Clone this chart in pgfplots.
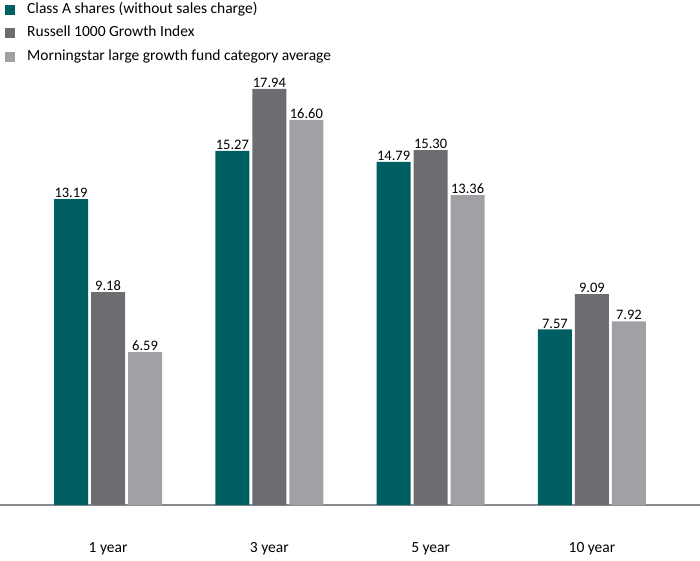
\documentclass[border=0pt]{standalone}
\usepackage{pgfplots}
\pgfplotsset{compat=1.18}
\usepackage{fontspec}
\setmainfont{Carlito}
\definecolor{cA}{HTML}{005F62}
\definecolor{cB}{HTML}{6D6C71}
\definecolor{cC}{HTML}{A0A1A4}
\definecolor{axc}{HTML}{8A8A8C}
\begin{document}
\begin{tikzpicture}
\useasboundingbox (0pt,-55pt) rectangle (700pt,505pt);
\begin{axis}[
  at={(0pt,0pt)}, anchor=south west,
  scale only axis, width=700pt, height=505pt,
  xmin=-0.67, xmax=3.67, ymin=0, ymax=21.77,
  axis y line=none, axis x line*=bottom,
  x axis line style={draw=axc, line width=1.2pt, -},
  ybar=3pt, bar width=34pt,
  xtick={0,1,2,3}, xticklabels={1 year,3 year,5 year,10 year},
  major tick length=0pt,
  xticklabel style={font=\fontsize{15.5}{18}\selectfont, yshift=-34pt},
  nodes near coords,
  nodes near coords style={font=\fontsize{14.5}{16}\selectfont, inner sep=1pt, anchor=south,
    /pgf/number format/.cd, fixed, fixed zerofill, precision=2, assume math mode=true},
  every axis plot/.append style={draw=none},
  legend image code/.code={\fill[#1] (0pt,-5pt) rectangle (10pt,5pt);},
  legend cell align=left,
  legend style={at={(0,1)}, anchor=north west, xshift=5pt, yshift=-2pt,
    draw=none, fill=none, inner xsep=0pt, inner ysep=0pt, row sep=8.5pt,
    font=\fontsize{15.5}{18}\selectfont,
    nodes={inner sep=0pt, text height=11pt, text depth=4pt},
    /tikz/every odd column/.style={column sep=12pt}},
]
\addplot[fill=cA] coordinates {(0,13.19) (1,15.27) (2,14.79) (3,7.57)};
\addplot[fill=cB] coordinates {(0,9.18) (1,17.94) (2,15.30) (3,9.09)};
\addplot[fill=cC] coordinates {(0,6.59) (1,16.60) (2,13.36) (3,7.92)};
\legend{Class A shares (without sales charge), Russell 1000 Growth Index, Morningstar large growth fund category average}
\end{axis}
\end{tikzpicture}
\end{document}
